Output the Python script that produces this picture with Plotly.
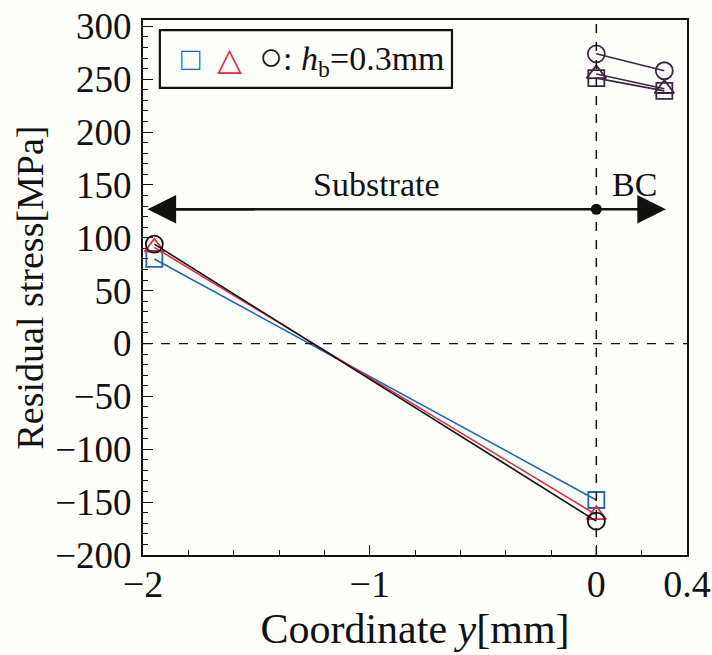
import plotly.graph_objects as go

# ---- data ----
sub_x = [-1.95, 0.0]
sq_sub = [80, -148]
tri_sub = [91, -162]
cir_sub = [94, -168]

bc_x = [0.0, 0.3]
sq_bc = [251, 239]
tri_bc = [255, 241]
cir_bc = [274, 258]

x_ticks = [-2, -1, 0, 0.4]
x_ticklabels = ["\u22122", "\u22121", "0", "0.4"]

BLUE = "#2064b4"
RED = "#dc2a48"
BLACK = "#111111"
PURPLE = "#3e2542"
FONT = "Liberation Serif, Times New Roman, DejaVu Serif, serif"

fig = go.Figure()

def add(x, y, sym, color, size):
    fig.add_trace(go.Scatter(
        x=x, y=y, mode="lines+markers",
        line=dict(color=color, width=1.6),
        marker=dict(symbol=sym, size=size, color=color,
                    line=dict(color=color, width=1.8)),
        showlegend=False, cliponaxis=False))

add(sub_x, sq_sub, "square-open", BLUE, 16)
add(sub_x, tri_sub, "triangle-up-open", RED, 17)
add(sub_x, cir_sub, "circle-open", BLACK, 17)
add(bc_x, sq_bc, "square-open", PURPLE, 16)
add(bc_x, tri_bc, "triangle-up-open", PURPLE, 17)
add(bc_x, cir_bc, "circle-open", PURPLE, 17)

# dot at interface on the arrow
fig.add_trace(go.Scatter(x=[0], y=[127], mode="markers",
                         marker=dict(symbol="circle", size=11, color=BLACK),
                         showlegend=False))

# dashed reference lines
fig.add_shape(type="line", x0=0, x1=0, y0=0, y1=1, xref="x", yref="paper",
              line=dict(color=BLACK, width=1.5, dash="dash"))
fig.add_shape(type="line", x0=-2, x1=0.4, y0=0, y1=0, xref="x", yref="y",
              line=dict(color=BLACK, width=1.2, dash="dash"))

# arrows
fig.add_shape(type="line", x0=-1.9, x1=0, y0=127, y1=127, xref="x", yref="y",
              line=dict(color=BLACK, width=2.6))
fig.add_annotation(x=-1.98, y=127, ax=-1.5, ay=127, xref="x", yref="y",
                   axref="x", ayref="y", text="", showarrow=True,
                   arrowhead=2, arrowsize=2.2, arrowwidth=2.6,
                   arrowcolor=BLACK, standoff=0)
fig.add_annotation(x=0.307, y=127, ax=0, ay=127, xref="x", yref="y",
                   axref="x", ayref="y", text="", showarrow=True,
                   arrowhead=2, arrowsize=2.2, arrowwidth=2.6,
                   arrowcolor=BLACK, standoff=0)

fig.add_annotation(x=-0.97, y=150, xref="x", yref="y", text="Substrate",
                   showarrow=False, font=dict(family=FONT, size=34, color=BLACK))
fig.add_annotation(x=0.17, y=150, xref="x", yref="y", text="BC",
                   showarrow=False, font=dict(family=FONT, size=34, color=BLACK))

# legend box
fig.add_shape(type="rect", xref="paper", yref="paper",
              x0=0.031, x1=0.568, y0=0.873, y1=0.981,
              line=dict(color=BLACK, width=2.2), fillcolor="rgba(0,0,0,0)")
fig.add_annotation(
    xref="paper", yref="paper", x=0.066, y=0.929, xanchor="left", yanchor="middle",
    showarrow=False,
    text=(f"<span style='color:{BLUE};font-size:32px'>\u25a1</span>&nbsp;&nbsp;"
          f"<span style='color:{RED};font-size:32px'>\u25b3</span>&nbsp;&nbsp;"
          f"<span style='color:{BLACK};font-size:40px'>\u25cb</span>: <i>h</i><sub>b</sub>=0.3mm"),
    font=dict(family=FONT, size=34, color=BLACK))

fig.update_layout(
    width=712, height=655,
    margin=dict(l=143, r=25, t=20, b=100),
    paper_bgcolor="#fefefa", plot_bgcolor="#fefefa",
    font=dict(family=FONT, color=BLACK),
    showlegend=False,
)

fig.update_xaxes(
    range=[-2, 0.4], tickvals=x_ticks, ticktext=x_ticklabels,
    ticks="inside", ticklen=10, tickwidth=1.2, tickcolor=BLACK,
    minor=dict(dtick=0.2, tick0=-2, ticks="inside", ticklen=5, tickcolor=BLACK),
    showline=True, linecolor=BLACK, linewidth=2, mirror=True,
    showgrid=False, zeroline=False, automargin=False,
    tickfont=dict(family=FONT, size=38, color=BLACK),
    ticklabelstandoff=-6,
    title=dict(text="Coordinate <i>y</i>[mm]", standoff=10,
               font=dict(family=FONT, size=42, color=BLACK)),
)
fig.update_yaxes(
    range=[-200, 306], tickmode="linear", tick0=-200, dtick=50,
    ticks="inside", ticklen=10, tickwidth=1.2, tickcolor=BLACK,
    minor=dict(dtick=10, ticks="inside", ticklen=5, tickcolor=BLACK),
    showline=True, linecolor=BLACK, linewidth=2, mirror=True,
    showgrid=False, zeroline=False, automargin=False,
    tickfont=dict(family=FONT, size=37, color=BLACK),
    ticklabelstandoff=2,
    title=dict(text="Residual stress[MPa]", standoff=0,
               font=dict(family=FONT, size=38, color=BLACK)),
)

fig.write_html("out.html")
